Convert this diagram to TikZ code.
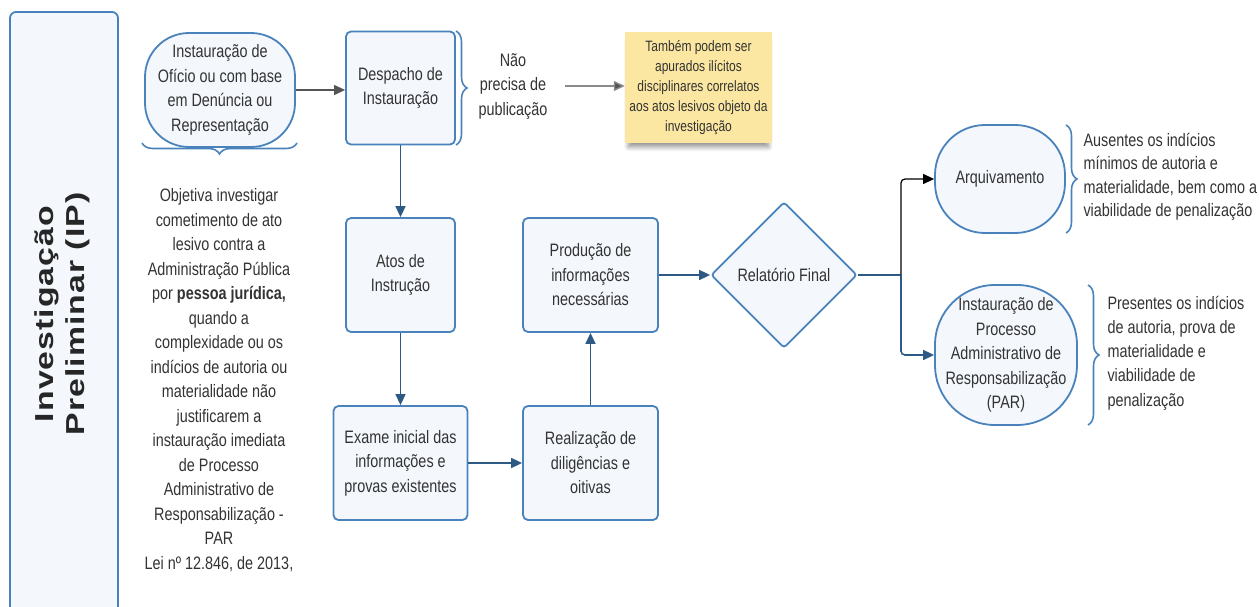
\documentclass[tikz,border=0pt]{standalone}
\usepackage{fontspec}
\setmainfont{Liberation Sans}[FakeStretch=0.8]
\newfontfamily\titlefont{Liberation Sans}[FakeStretch=1.3,LetterSpace=4]
\usetikzlibrary{arrows.meta,shapes.geometric,decorations.pathreplacing,shadows.blur}
\definecolor{bblue}{HTML}{4A82BC}
\definecolor{bfill}{HTML}{F4F8FD}
\definecolor{ink}{HTML}{333333}
\definecolor{dblue}{HTML}{2C5A85}
\definecolor{agray}{HTML}{555555}
\definecolor{lgray}{HTML}{8A8A8A}
\definecolor{note}{HTML}{FBE7A1}
\tikzset{
  body/.style={font=\fontsize{18}{24.5}\selectfont, text=ink, align=center},
  stepbox/.style={body, draw=bblue, fill=bfill, line width=1.8pt, rounded corners=5pt, inner sep=0pt},
  pill/.style={body, draw=bblue, fill=bfill, line width=1.8pt, inner sep=0pt},
  decis/.style={body, draw=bblue, fill=bfill, line width=1.8pt, diamond, inner sep=0pt, rounded corners=3pt},
  barrow/.style={draw=dblue, line width=1.6pt, -{Triangle[length=11pt,width=10pt]}},
  karrow/.style={draw=black, line width=1.2pt, -{Triangle[length=11pt,width=10pt]}},
  garrow/.style={draw=agray, line width=1.2pt, -{Triangle[length=11pt,width=10pt]}},
  larrow/.style={draw=lgray, line width=1.4pt, -{Triangle[length=11pt,width=10pt,fill=agray]}},
  bracestyle/.style={draw=bblue, line width=1.6pt, decorate, decoration={brace, amplitude=11pt}},
}
\begin{document}
\begin{tikzpicture}[x=1pt, y=-1pt]
\useasboundingbox (0,0) rectangle (1259,607);
\begin{scope}
  \clip (0,0) rectangle (1259,607);
  \draw[draw=bblue, fill=bfill, line width=1.8pt, rounded corners=6pt] (10,12) rectangle (118,650);
\end{scope}
\node[rotate=90, font=\titlefont\bfseries\fontsize{26}{31}\selectfont, text=black!85, align=center] (title) at (62,314) {Investigação\\Preliminar (IP)};

% top row
\node[pill, rounded corners=44pt, minimum width=150pt, minimum height=114pt] (inst) at (220,90) {Instauração de\\Ofício ou com base\\em Denúncia ou\\Representação};
\node[stepbox, minimum width=109pt, minimum height=113pt] (desp) at (400.5,88) {Despacho de\\Instauração};
\node[body] (naop) at (513,86) {Não\\precisa de\\publicação};
\node[fill=note, minimum width=147pt, minimum height=111pt, inner sep=0pt, align=center, text=ink,
      font=\fontsize{15}{19.8}\selectfont,
      blur shadow={shadow xshift=0pt, shadow yshift=-7pt, shadow scale=0.95, shadow blur steps=10, shadow blur radius=5pt, shadow opacity=45}] (nota) at (698.5,87.5)
      {Também podem ser\\apurados ilícitos\\disciplinares correlatos\\aos atos lesivos objeto da\\investigação};

% braces
\draw[bracestyle] (297,143) -- (142,143);
\draw[bracestyle] (456,31) -- (456,145);

% description text
\node[body] (desc) at (219,380) {Objetiva investigar\\cometimento de ato\\lesivo contra a\\Administração Pública\\por \textbf{pessoa jurídica,}\\quando a\\complexidade ou os\\indícios de autoria ou\\materialidade não\\justificarem a\\instauração imediata\\de Processo\\Administrativo de\\Responsabilização -\\PAR\\Lei nº 12.846, de 2013,};

% middle boxes
\node[stepbox, minimum width=109pt, minimum height=114pt] (atos) at (400.5,275) {Atos de\\Instrução};
\node[stepbox, minimum width=134pt, minimum height=114pt] (exame) at (400.5,463) {Exame inicial das\\informações e\\provas existentes};
\node[stepbox, minimum width=135pt, minimum height=114pt] (real) at (590.5,463) {Realização de\\diligências e\\oitivas};
\node[stepbox, minimum width=135pt, minimum height=114pt] (prod) at (590.5,275) {Produção de\\informações\\necessárias};
\node[decis, minimum width=146pt, minimum height=146pt] (rel) at (784,275) {Relatório Final};

% right side
\node[pill, rounded corners=50pt, minimum width=130pt, minimum height=108pt] (arq) at (1000,179) {Arquivamento};
\node[pill, rounded corners=60pt, minimum width=142pt, minimum height=140pt] (par) at (1006,355) {Instauração de\\Processo\\Administrativo de\\Responsabilização\\(PAR)};
\draw[bracestyle] (1066,125) -- (1066,233);
\draw[bracestyle] (1088,285) -- (1088,425);
\node[body, align=left, anchor=west, font=\fontsize{18}{23.5}\selectfont] (t1) at (1080,177) {Ausentes os indícios\\mínimos de autoria e\\materialidade, bem como a\\viabilidade de penalização};
\node[body, align=left, anchor=west, font=\fontsize{18}{24.2}\selectfont] (t2) at (1104,353) {Presentes os indícios\\de autoria, prova de\\materialidade e\\viabilidade de\\penalização};

% connectors
\draw[garrow] (inst.east) -- (inst.east -| desp.west);
\draw[larrow] (naop.east) ++(14pt,0) coordinate (na) (na) -- (na -| nota.west);
\draw[barrow] (desp.south) -- (atos.north);
\draw[barrow] (atos.south) -- (exame.north);
\draw[barrow] (exame.east) -- (real.west);
\draw[barrow] (real.north) -- (prod.south);
\draw[barrow] (prod.east) -- (rel.west);
\coordinate (j) at (901,275);
\draw[draw=dblue, line width=1.6pt] (rel.east) -- (j);
\draw[karrow, rounded corners=4pt] (j) |- (arq.west);
\draw[barrow, rounded corners=4pt] (j) |- (par.west);
\end{tikzpicture}
\end{document}
